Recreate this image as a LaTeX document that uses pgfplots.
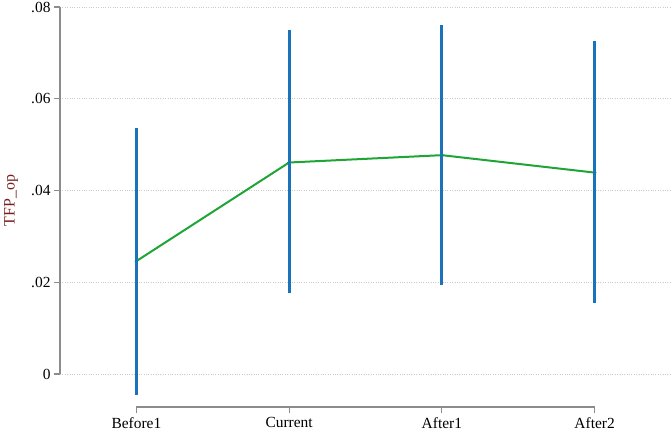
\documentclass[border=0pt]{standalone}
\usepackage{pgfplots}
\pgfplotsset{compat=1.18}
\usepackage{pgfplotstable}
\usepackage{fontspec}
\setmainfont{Liberation Serif}
\definecolor{ciblue}{HTML}{1A72BB}
\definecolor{lngreen}{HTML}{1FA535}
\definecolor{ttlred}{HTML}{7A1E1E}
\definecolor{axgray}{HTML}{8C8C8C}
\pgfplotstableread{
x  b       lo       hi
0  0.0246  -0.0046  0.0537
1  0.0461  0.0177   0.0749
2  0.0477  0.0193   0.0761
3  0.0439  0.0155   0.0725
}\coef
\pgfplotstablecreatecol[expr={\thisrow{hi}-\thisrow{b}}]{ep}\coef
\pgfplotstablecreatecol[expr={\thisrow{b}-\thisrow{lo}}]{em}\coef
\begin{document}
\begin{tikzpicture}
\begin{axis}[
  scale only axis,
  width=611bp, height=400bp,
  xmin=-0.5, xmax=3.5,
  ymin=-0.0072, ymax=0.08,
  axis line style={draw=none},
  xtick={0,1,2,3},
  xticklabels={Before1,Current,After1,After2},
  ytick={0,0.02,0.04,0.06,0.08},
  yticklabels={0,.02,.04,.06,.08},
  xtick pos=bottom, ytick pos=left,
  tick align=outside,
  major tick length=6bp,
  tick style={axgray, line width=1.2bp},
  ymajorgrids,
  major grid style={gray!40, dotted, line width=0.8bp},
  ticklabel style={font=\fontsize{15.5}{18}\selectfont, black},
  xticklabel style={yshift=-1bp},
  ylabel={TFP\_op},
  ylabel style={font=\fontsize{16}{19}\selectfont, text=ttlred, at={(axis description cs:-0.0802,0.516)}, anchor=center},
  clip=false,
]
\draw[axgray, line width=1.2bp] (axis cs:-0.5,0) -- (axis cs:-0.5,0.08);
\draw[axgray, line width=1.2bp] (axis cs:0,-0.0072) -- (axis cs:3,-0.0072);
\addplot[draw=none, mark=none, forget plot,
  error bars/.cd, y dir=both, y explicit, error mark=none,
  error bar style={ciblue, line width=3bp}]
  table[x=x, y=b, y error plus=ep, y error minus=em] {\coef};
\addplot[lngreen, line width=2bp, mark=none] table[x=x, y=b] {\coef};
\addplot[only marks, mark=*, mark size=1.6bp, ciblue] table[x=x, y=b] {\coef};
\end{axis}
\pgfresetboundingbox
\path[use as bounding box] ([xshift=-60bp,yshift=-24bp]current axis.south west) rectangle ([yshift=7bp]current axis.north east);
\end{tikzpicture}
\end{document}
